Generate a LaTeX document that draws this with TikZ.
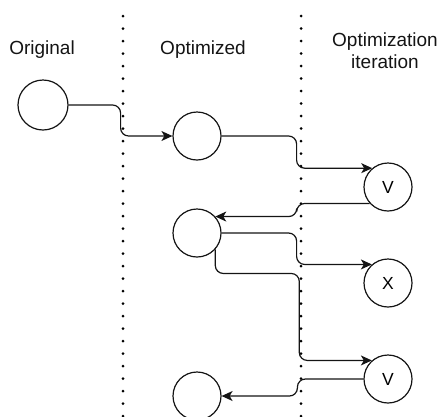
\documentclass[tikz,border=0pt]{standalone}
\usepackage{fontspec}
\setmainfont{Liberation Sans}
\usetikzlibrary{arrows.meta}
\definecolor{ink}{RGB}{20,20,20}
\tikzset{
  state/.style={draw=ink, circle, minimum size=48pt, inner sep=0pt, line width=1.2pt,
    font=\fontsize{17.5}{20}\selectfont},
  flow/.style={draw=ink, line width=1.2pt, rounded corners=8pt,
    -{Stealth[length=11pt,width=10pt,inset=3pt]}},
  divider/.style={line width=3pt, line cap=round, dash pattern=on 0pt off 12.5pt},
  heading/.style={align=center, text=ink, font=\fontsize{19}{22}\selectfont},
}

\begin{document}
\begin{tikzpicture}[x=1pt, y=-1pt]
\useasboundingbox (0,0) rectangle (443,416);
% column dividers
\foreach \x in {123,301}{
  \draw[divider] (\x,16) -- (\x,420);
}
% headings
\node[heading] (lblOrig) at (42,50) {Original};
\node[heading] (lblOpt) at (203,50) {Optimized};
\node[heading] (lblIter) at (385,51) {Optimization\\iteration};
% states
\node[state, minimum size=50pt] (orig) at (43,105) {};
\node[state] (optA) at (197,136) {};
\node[state] (optB) at (197,233) {};
\node[state] (optC) at (197,396) {};
\node[state] (iterV) at (388,187) {V};
\node[state] (iterX) at (388,283) {X};
\node[state] (iterW) at (388,379) {V};
% flows
\draw[flow] (orig.east) -- ++(52,0) |- (optA.west);
\draw[flow] (optA.east) -- ++(75,0) |- (iterV.130);
\draw[flow] (iterV.222) -- ++(-73,0) |- (optB.42);
\draw[flow] (optB.east) -- ++(75,0) |- (iterX.131);
\draw[flow] (optB.-42) -- ++(0,24) -- ++(84,0) |- (iterW.131);
\draw[flow] (iterW.west) -- ++(-66,0) |- (optC.east);
\end{tikzpicture}
\end{document}
